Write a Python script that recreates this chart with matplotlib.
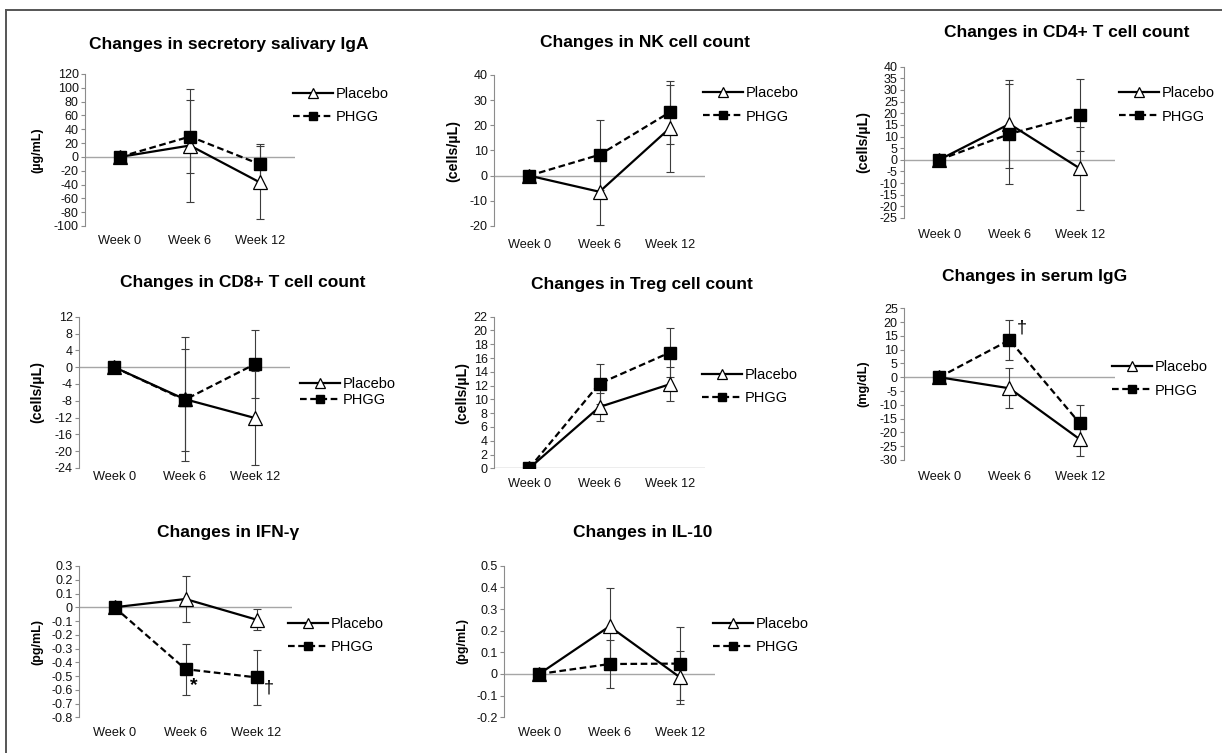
import matplotlib
matplotlib.use("Agg")
import matplotlib.pyplot as plt
from matplotlib.lines import Line2D
import numpy as np

plt.rcParams["font.family"] = ["Liberation Sans", "DejaVu Sans"]

W, H = 1222, 753

WEEKS = ["Week 0", "Week 6", "Week 12"]

# mean change from baseline and SD
IGA_PLACEBO = [0, 16.5, -37.0]
IGA_PLACEBO_SD = [0, 82.0, 53.0]
IGA_PHGG = [0, 29.5, -10.7]
IGA_PHGG_SD = [0, 52.5, 29.0]

NK_PLACEBO = [0, -6.4, 18.9]
NK_PLACEBO_SD = [0, 13.3, 17.3]
NK_PHGG = [0, 8.3, 25.2]
NK_PHGG_SD = [0, 14.0, 12.6]

CD4_PLACEBO = [0, 15.4, -3.7]
CD4_PLACEBO_SD = [0, 19.0, 17.8]
CD4_PHGG = [0, 11.1, 19.2]
CD4_PHGG_SD = [0, 21.5, 15.4]

CD8_PLACEBO = [0, -7.6, -12.1]
CD8_PLACEBO_SD = [0, 14.8, 11.2]
CD8_PHGG = [0, -7.8, 0.7]
CD8_PHGG_SD = [0, 12.2, 8.1]

TREG_PLACEBO = [0, 8.9, 12.2]
TREG_PLACEBO_SD = [0, 2.1, 2.5]
TREG_PHGG = [0, 12.3, 16.8]
TREG_PHGG_SD = [0, 2.9, 3.5]

IGG_PLACEBO = [0, -4.0, -22.5]
IGG_PLACEBO_SD = [0, 7.2, 6.2]
IGG_PHGG = [0, 13.5, -16.7]
IGG_PHGG_SD = [0, 7.4, 6.7]

IFN_PLACEBO = [0, 0.06, -0.09]
IFN_PLACEBO_SD = [0, 0.166, 0.075]
IFN_PHGG = [0, -0.45, -0.51]
IFN_PHGG_SD = [0, 0.185, 0.20]

IL10_PLACEBO = [0, 0.22, -0.015]
IL10_PLACEBO_SD = [0, 0.177, 0.122]
IL10_PHGG = [0, 0.046, 0.048]
IL10_PHGG_SD = [0, 0.109, 0.167]

# layout in pixels: axes box (l, t, r, b), title centre, ylabel x and size,
# legend (x, y), legend label spacing, week-label offset below axes
PANELS = [
    dict(title="Changes in secretory salivary IgA", unit="(µg/mL)", usz=9,
         data=(IGA_PLACEBO, IGA_PLACEBO_SD, IGA_PHGG, IGA_PHGG_SD),
         ylim=(-100, 120), step=20, box=(85, 74, 295, 226), tpos=(229, 44),
         ylx=37, leg=(293, 105.5), lsp=0.62, xoff=15),
    dict(title="Changes in NK cell count", unit="(cells/µL)", usz=10.3,
         data=(NK_PLACEBO, NK_PLACEBO_SD, NK_PHGG, NK_PHGG_SD),
         ylim=(-20, 40), step=10, box=(494, 75, 705, 226), tpos=(645, 43),
         ylx=453, leg=(703, 105), lsp=0.62, xoff=19),
    dict(title="Changes in CD4+ T cell count", unit="(cells/µL)", usz=10.3,
         data=(CD4_PLACEBO, CD4_PLACEBO_SD, CD4_PHGG, CD4_PHGG_SD),
         ylim=(-25, 40), step=5, box=(904, 66.7, 1115, 218), tpos=(1067, 33),
         ylx=863, leg=(1119, 105), lsp=0.62, xoff=17),
    dict(title="Changes in CD8+ T cell count", unit="(cells/µL)", usz=10.3,
         data=(CD8_PLACEBO, CD8_PLACEBO_SD, CD8_PHGG, CD8_PHGG_SD),
         ylim=(-24, 12), step=4, box=(79, 316.7, 290, 468), tpos=(243, 283),
         ylx=37, leg=(300, 392), lsp=0.12, xoff=10),
    dict(title="Changes in Treg cell count", unit="(cells/µL)", usz=10.3,
         data=(TREG_PLACEBO, TREG_PLACEBO_SD, TREG_PHGG, TREG_PHGG_SD),
         ylim=(0, 22), step=2, box=(494, 316.7, 705, 468.3), tpos=(642, 285),
         ylx=462, leg=(702, 386.5), lsp=0.62, xoff=16),
    dict(title="Changes in serum IgG", unit="(mg/dL)", usz=9.2,
         data=(IGG_PLACEBO, IGG_PLACEBO_SD, IGG_PHGG, IGG_PHGG_SD),
         ylim=(-30, 25), step=5, box=(904, 308.3, 1115, 460), tpos=(1035, 277),
         ylx=863, leg=(1112, 379), lsp=0.62, xoff=17),
    dict(title="Changes in IFN-γ", unit="(pg/mL)", usz=9,
         data=(IFN_PLACEBO, IFN_PLACEBO_SD, IFN_PHGG, IFN_PHGG_SD),
         ylim=(-0.8, 0.3), step=0.1, box=(79, 566, 292, 717.3), tpos=(228, 533),
         ylx=37, leg=(288, 635.5), lsp=0.62, xoff=16),
    dict(title="Changes in IL-10", unit="(pg/mL)", usz=9,
         data=(IL10_PLACEBO, IL10_PLACEBO_SD, IL10_PHGG, IL10_PHGG_SD),
         ylim=(-0.2, 0.5), step=0.1, box=(504, 565.7, 715, 717.3), tpos=(643, 533),
         ylx=462, leg=(713, 635.5), lsp=0.62, xoff=16),
]

PX = 72 / 100  # points per pixel at dpi 100

fig = plt.figure(figsize=(W / 100, H / 100), dpi=100)

# partial outer frame (left + top edges only, as in the source)
fig.add_artist(Line2D([5.5 / W, 5.5 / W], [0, 1 - 9.5 / H], color="#555555", lw=1.4))
fig.add_artist(Line2D([5.5 / W, 1], [1 - 9.5 / H, 1 - 9.5 / H], color="#555555", lw=1.4))

axes = []
for p in PANELS:
    l, t, r, b = p["box"]
    ax = fig.add_axes([l / W, 1 - b / H, (r - l) / W, (b - t) / H])
    axes.append(ax)
    pl, pl_sd, ph, ph_sd = p["data"]
    x = np.arange(len(WEEKS))

    ax.axhline(0, color="#a6a6a6", lw=1.0, zorder=1)
    ax.errorbar(x, pl, yerr=pl_sd, fmt="none", ecolor="#3c3c3c",
                elinewidth=0.8, capsize=2.8, capthick=0.8, zorder=2)
    ax.errorbar(x, ph, yerr=ph_sd, fmt="none", ecolor="#3c3c3c",
                elinewidth=0.8, capsize=2.8, capthick=0.8, zorder=2)
    ax.plot(x, pl, color="black", lw=1.6, marker="^", ms=9.5, mfc="white",
            mec="black", mew=0.9, zorder=3, label="Placebo")
    ax.plot(x, ph, color="black", lw=1.6, ls=(0, (3, 1.6)), marker="s", ms=8.5,
            mfc="black", mec="black", zorder=4, label="PHGG")

    lo, hi = p["ylim"]
    ax.set_xlim(-0.5, 2.5)
    ax.set_ylim(lo, hi)
    ticks = np.round(np.arange(lo, hi + p["step"] / 2, p["step"]), 3)
    ax.set_yticks(ticks)
    ax.set_yticklabels([f"{v:g}" if abs(v) > 1e-9 else "0" for v in ticks])
    ax.set_xticks(x)
    ax.set_xticklabels(WEEKS)

    for s in ("top", "right", "bottom"):
        ax.spines[s].set_visible(False)
    ax.spines["left"].set_color("#8c8c8c")
    ax.spines["left"].set_linewidth(0.8)
    ax.tick_params(axis="y", direction="out", length=3, width=0.8,
                   color="#8c8c8c", labelsize=9, pad=1.5, labelcolor="#111111")
    ax.tick_params(axis="x", length=0, labelsize=9.2, labelcolor="#111111",
                   pad=max(p["xoff"] - 6.5, 0) * PX)
    ax.patch.set_visible(False)

    # title and y label sit on the chart area, not centred on the plot box
    fig.text(p["tpos"][0] / W, 1 - p["tpos"][1] / H, p["title"], ha="center",
             va="center", fontsize=12.5, fontweight="bold")
    fig.text(p["ylx"] / W, 1 - (t + b) / 2 / H, p["unit"], rotation=90,
             ha="center", va="center", fontsize=p["usz"], fontweight="bold")

    lx = (p["leg"][0] - l) / (r - l)
    ly = (b - p["leg"][1]) / (b - t)
    ax.legend(loc="center left", bbox_to_anchor=(lx, ly), frameon=False,
              borderpad=0, borderaxespad=0, handlelength=2.75, handletextpad=0.15,
              labelspacing=p["lsp"], fontsize=10.5, markerscale=0.75)

# significance marks
axes[5].annotate("†", (1, IGG_PHGG[1]), xytext=(12 * PX, 12 * PX),
                 textcoords="offset points", ha="center", va="center", fontsize=13)
axes[6].annotate("*", (1, IFN_PHGG[1]), xytext=(8 * PX, -16 * PX),
                 textcoords="offset points", ha="center", va="center",
                 fontsize=14, fontweight="bold")
axes[6].annotate("†", (2, IFN_PHGG[2]), xytext=(12 * PX, -11 * PX),
                 textcoords="offset points", ha="center", va="center", fontsize=13)

fig.savefig("out.png", dpi=100)
